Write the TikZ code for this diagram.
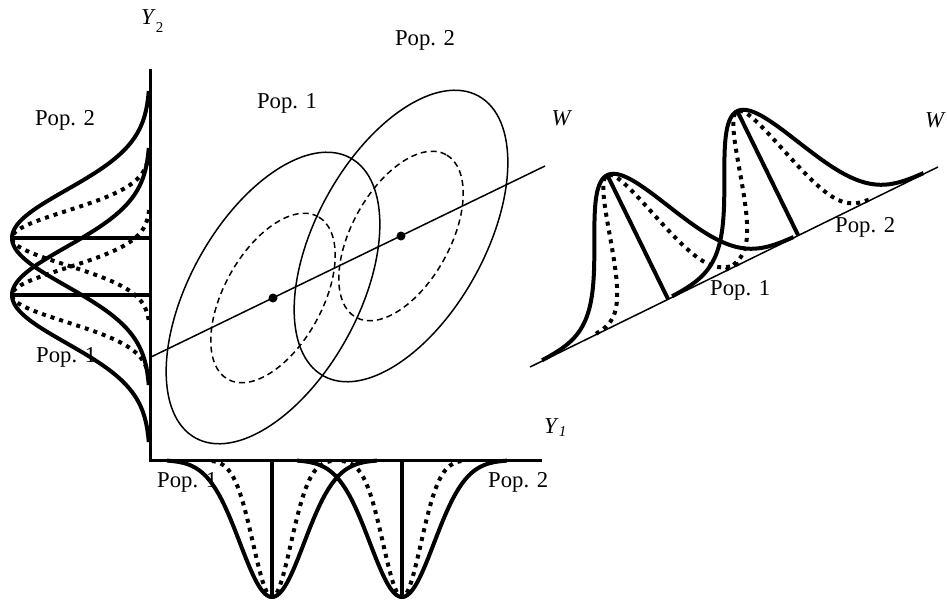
\documentclass[tikz,border=0pt]{standalone}
\usepackage{fontspec}
\setmainfont{Liberation Serif}
\begin{document}
\begin{tikzpicture}[x=1pt,y=-1pt,
  thinline/.style={line width=1.5pt},
  dashline/.style={line width=1.5pt, dash pattern=on 6pt off 4pt},
  thickcurve/.style={line width=4pt},
  dotcurve/.style={line width=4pt, dash pattern=on 4pt off 5pt},
  axisline/.style={line width=3pt},
  lbl/.style={inner sep=0pt, font=\fontsize{22.7}{27}\selectfont}]
\useasboundingbox (0,0) rectangle (947,602);

% ---- labels (drawn first, curves overlap some of them)
\node[lbl, anchor=base] (p2top) at (425,46) {Pop. 2};
\node[lbl, anchor=base] (p1top) at (287,108) {Pop. 1};
\node[lbl, anchor=base] (p2left) at (65,125) {Pop. 2};
\node[lbl, anchor=base west] (p1left) at (36,362) {Pop. 1};
\node[lbl, anchor=base west] (p1bot) at (157,487) {Pop. 1};
\node[lbl, anchor=base west] (p2bot) at (488,487) {Pop. 2};
\node[lbl, anchor=base west] (p2right) at (835,232) {Pop. 2};
\node[lbl, anchor=base west] (p1right) at (710,295) {Pop. 1};
\node[lbl, anchor=base] (wlab) at (562,125) {\textit{W}};
\node[lbl, anchor=base east] (wlab2) at (946,127) {\textit{W}};
\node[lbl, anchor=base west] (y2) at (141,25) {\textit{Y}\raisebox{-8pt}{\fontsize{15}{15}\selectfont 2}};
\node[lbl, anchor=base west] (y1) at (544,433) {\textit{Y}\raisebox{-3pt}{\fontsize{15}{15}\selectfont\textit{1}}};

% ---- ellipses and discriminant line
\coordinate (c1) at (273,298);
\coordinate (c2) at (401,236);
\draw[thinline, rotate around={61:(c1)}] (c1) ellipse [x radius=160pt, y radius=84pt];
\draw[thinline, rotate around={61:(c2)}] (c2) ellipse [x radius=160pt, y radius=84pt];
\draw[dashline, rotate around={61:(c1)}] (c1) ellipse [x radius=93pt, y radius=49pt];
\draw[dashline, rotate around={61:(c2)}] (c2) ellipse [x radius=93pt, y radius=49pt];
\coordinate (w0) at (150,357.5);
\coordinate (w1) at (545,166);
\draw[thinline] (w0) -- (w1);
\fill (c1) circle (4.5pt);
\fill (c2) circle (4.5pt);

% ---- left marginal (Y2)
\draw[thickcurve] plot[domain=-147:147, samples=100, smooth] ({150-138*exp(-0.5*(\x/48)*(\x/48))}, {238+\x});
\draw[thickcurve] plot[domain=-147:147, samples=100, smooth] ({150-138*exp(-0.5*(\x/48)*(\x/48))}, {295+\x});
\draw[dotcurve] plot[domain=-85:85, samples=80, smooth] ({150-138*exp(-0.5*(\x/27)*(\x/27))}, {238+\x});
\draw[dotcurve] plot[domain=-85:85, samples=80, smooth] ({150-138*exp(-0.5*(\x/27)*(\x/27))}, {295+\x});
\coordinate (lp2) at (12,238); \coordinate (lb2) at (150,238);
\coordinate (lp1) at (12,295); \coordinate (lb1) at (150,295);
\draw[thickcurve] (lp2) -- (lb2);
\draw[thickcurve] (lp1) -- (lb1);

% ---- bottom marginal (Y1)
\draw[thickcurve] plot[domain=-105:105, samples=100, smooth] ({272+\x}, {460+137*exp(-0.5*(\x/32)*(\x/32))});
\draw[thickcurve] plot[domain=-105:105, samples=100, smooth] ({402+\x}, {460+137*exp(-0.5*(\x/32)*(\x/32))});
\draw[dotcurve] plot[domain=-60:60, samples=80, smooth] ({272+\x}, {460+137*exp(-0.5*(\x/19)*(\x/19))});
\draw[dotcurve] plot[domain=-60:60, samples=80, smooth] ({402+\x}, {460+137*exp(-0.5*(\x/19)*(\x/19))});
\coordinate (bb1) at (272,460); \coordinate (bp1) at (272,597);
\coordinate (bb2) at (402,460); \coordinate (bp2) at (402,597);
\draw[thickcurve] (bb1) -- (bp1);
\draw[thickcurve] (bb2) -- (bp2);

% ---- axes
\coordinate (ytop) at (150,69);
\coordinate (orig) at (150,460);
\coordinate (xend) at (542,460);
\draw[axisline] (ytop) -- (orig) -- (xend);

% ---- projection onto W
\coordinate (r0) at (530,367);
\coordinate (r1) at (938,167);
\draw[thinline] (r0) -- (r1);
\draw[thickcurve] plot[domain=-140:140, samples=110, smooth]
  ({668+0.8979*\x-0.4401*138*exp(-0.5*(\x/41)*(\x/41))}, {299-0.4401*\x-0.8979*138*exp(-0.5*(\x/41)*(\x/41))});
\draw[thickcurve] plot[domain=-140:140, samples=110, smooth]
  ({798+0.8979*\x-0.4401*138*exp(-0.5*(\x/41)*(\x/41))}, {235-0.4401*\x-0.8979*138*exp(-0.5*(\x/41)*(\x/41))});
\draw[dotcurve] plot[domain=-80:80, samples=80, smooth]
  ({668+0.8979*\x-0.4401*138*exp(-0.5*(\x/24)*(\x/24))}, {299-0.4401*\x-0.8979*138*exp(-0.5*(\x/24)*(\x/24))});
\draw[dotcurve] plot[domain=-80:80, samples=80, smooth]
  ({798+0.8979*\x-0.4401*138*exp(-0.5*(\x/24)*(\x/24))}, {235-0.4401*\x-0.8979*138*exp(-0.5*(\x/24)*(\x/24))});
\coordinate (f1) at (668,299); \coordinate (t1) at (607.3,175.1);
\coordinate (f2) at (798,235); \coordinate (t2) at (737.3,111.1);
\draw[thickcurve] (f1) -- (t1);
\draw[thickcurve] (f2) -- (t2);
\end{tikzpicture}
\end{document}
